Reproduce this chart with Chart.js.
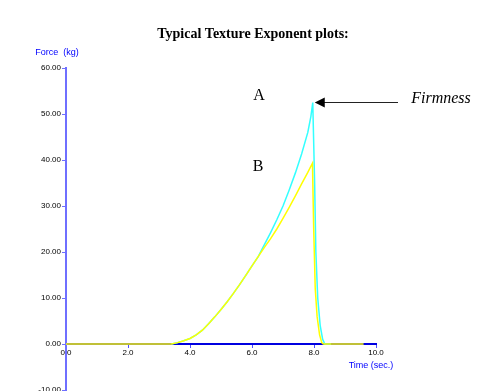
<!DOCTYPE html>
<html>
<head>
<meta charset="utf-8">
<script src="https://cdn.jsdelivr.net/npm/chart.js@4.4.0/dist/chart.umd.min.js"></script>
<style>
  html, body { margin: 0; padding: 0; background: #fff; }
  #wrap { width: 500px; height: 391px; }
</style>
</head>
<body>
<div id="wrap"><canvas id="grafico" width="500" height="391"></canvas></div>
<script>
// Curva B (amarilla)
const tiempoB = [0, 3.4, 3.6, 3.8, 4.0, 4.2, 4.4, 4.6, 4.8, 5.0, 5.2, 5.4, 5.6, 5.8, 6.0, 6.2, 6.4, 6.6, 6.8, 7.0, 7.2, 7.4, 7.6, 7.8, 7.95, 7.99, 8.04, 8.1, 8.18, 8.25, 8.3, 9.6];
const fuerzaB = [0, 0, 0.3, 0.7, 1.2, 2.0, 3.0, 4.4, 5.9, 7.5, 9.2, 11.0, 12.9, 14.9, 17.0, 19.0, 21.0, 22.9, 25.0, 27.3, 29.7, 32.2, 34.8, 37.3, 39.3, 25, 12, 6, 2, 0.3, 0, 0];

// Curva A (cian)
const tiempoA = [3.4, 3.6, 3.8, 4.0, 4.2, 4.4, 4.6, 4.8, 5.0, 5.2, 5.4, 5.6, 5.8, 6.0, 6.2, 6.4, 6.6, 6.8, 7.0, 7.2, 7.4, 7.6, 7.8, 7.9, 7.96, 8.02, 8.06, 8.12, 8.2, 8.28, 8.35, 8.55];
const fuerzaA = [0, 0.3, 0.7, 1.2, 2.0, 3.0, 4.4, 5.9, 7.5, 9.2, 11.0, 12.9, 14.9, 17.0, 19.0, 21.6, 24.2, 27.0, 30.0, 33.5, 37.2, 41.3, 46.0, 49.5, 52.5, 35, 20, 10, 4, 1, 0, 0];

const ticksY = [-10, 0, 10, 20, 30, 40, 50, 60];
const ticksX = [0, 2, 4, 6, 8, 10];

const puntos = (xs, ys) => xs.map((x, i) => ({ x: x, y: ys[i] }));

// Textos y flecha
const anotaciones = {
    id: 'anotaciones',
    afterDraw(chart) {
        const ctx = chart.ctx;
        const sx = chart.scales.x;
        const sy = chart.scales.y;
        ctx.save();

        ctx.fillStyle = '#000';
        ctx.textAlign = 'center';
        ctx.textBaseline = 'middle';
        ctx.font = 'bold 14px "Liberation Serif"';
        ctx.fillText('Typical Texture Exponent plots:', 253, 34);

        ctx.fillStyle = '#0000ff';
        ctx.font = '9px "Liberation Sans"';
        ctx.fillText('Force  (kg)', 57, 53);
        ctx.fillText('Time (sec.)', 371, 366);

        ctx.fillStyle = '#000';
        ctx.font = '16px "Liberation Serif"';
        ctx.fillText('A', sx.getPixelForValue(6.23), sy.getPixelForValue(53.9));
        ctx.fillText('B', sx.getPixelForValue(6.2), sy.getPixelForValue(38.5));

        // flecha hacia el pico de A
        const iPico = fuerzaA.indexOf(Math.max(...fuerzaA));
        const px = sx.getPixelForValue(tiempoA[iPico]) + 2;
        const py = sy.getPixelForValue(fuerzaA[iPico]);
        ctx.strokeStyle = '#222';
        ctx.lineWidth = 1;
        ctx.beginPath();
        ctx.moveTo(px + 9, py);
        ctx.lineTo(398, py);
        ctx.stroke();
        ctx.fillStyle = '#000';
        ctx.beginPath();
        ctx.moveTo(px, py);
        ctx.lineTo(px + 10, py - 5);
        ctx.lineTo(px + 10, py + 5);
        ctx.closePath();
        ctx.fill();

        ctx.font = 'italic 16px "Liberation Serif"';
        ctx.fillText('Firmness', 441, py - 4);

        ctx.restore();
    }
};

new Chart(document.getElementById('grafico').getContext('2d'), {
    type: 'line',
    data: {
        datasets: [
            {
                label: 'B',
                data: puntos(tiempoB, fuerzaB),
                borderColor: '#ffff00',
                borderWidth: 1.5,
                pointRadius: 0,
                tension: 0,
                fill: false
            },
            {
                label: 'A',
                data: puntos(tiempoA, fuerzaA),
                borderColor: '#33ffff',
                borderWidth: 1.5,
                pointRadius: 0,
                tension: 0,
                fill: false
            }
        ]
    },
    options: {
        responsive: false,
        animation: false,
        layout: { padding: { left: 0, top: 68, right: 124, bottom: 1 } },
        plugins: {
            legend: { display: false },
            tooltip: { enabled: false },
            title: { display: false }
        },
        scales: {
            x: {
                type: 'linear',
                position: { y: 0 },
                min: 0,
                max: 10,
                afterBuildTicks: s => { s.ticks = ticksX.map(v => ({ value: v })); },
                ticks: {
                    callback: v => v.toFixed(1),
                    color: '#000',
                    font: { size: 8, family: 'Liberation Sans' },
                    padding: 1,
                    maxRotation: 0
                },
                grid: { drawOnChartArea: false, tickLength: 3, color: '#5050ff' },
                border: { color: '#0000e0', width: 2 }
            },
            y: {
                type: 'linear',
                min: -10,
                max: 60,
                afterBuildTicks: s => { s.ticks = ticksY.map(v => ({ value: v })); },
                afterFit: s => { s.width = 66; s.paddingTop = 0; s.paddingBottom = 0; },
                ticks: {
                    callback: v => v.toFixed(2),
                    color: '#000',
                    font: { size: 8, family: 'Liberation Sans' },
                    padding: 1
                },
                grid: { drawOnChartArea: false, tickLength: 4, color: '#6f6fff' },
                border: { color: '#6f6fff', width: 2 }
            }
        }
    },
    plugins: [anotaciones]
});
</script>
</body>
</html>
